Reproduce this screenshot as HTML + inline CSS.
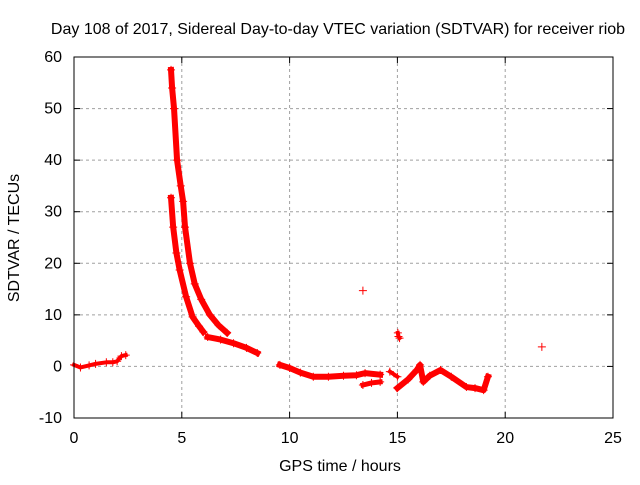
<!DOCTYPE html>
<html><head><meta charset="utf-8"><style>
html,body{margin:0;padding:0;background:#fff}
svg text{font-family:"Liberation Sans",Arial,sans-serif;font-size:16px;fill:#000}
</style></head><body>
<svg id="chart" width="640" height="480" viewBox="0 0 640 480" xmlns="http://www.w3.org/2000/svg">
<rect width="640" height="480" fill="#fff"/>
<g id="grid"></g>
<g id="ticks"></g>
<g id="series"></g>
<rect x="74" y="57" width="539" height="361" fill="none" stroke="#000" stroke-width="1"/>
<text x="338" y="34" text-anchor="middle">Day 108 of 2017, Sidereal Day-to-day VTEC variation (SDTVAR) for receiver riob</text>
<text x="340" y="471" text-anchor="middle">GPS time / hours</text>
<text x="0" y="0" text-anchor="middle" transform="translate(19,238) rotate(-90)">SDTVAR / TECUs</text>
</svg>
<script>
const xTicks=[0,5,10,15,20,25];
const yTicks=[-10,0,10,20,30,40,50,60];
// segments: hours and values
const segA_t=[0,0.3,0.7,1.0,1.5,1.8,2.0,2.2,2.4];
const segA_v=[0.3,-0.2,0.2,0.5,0.8,0.8,1.0,2.0,2.2];
const segB_t=[4.5,4.55,4.64,4.78,4.95,5.06,5.15,5.38,5.6,5.9,6.3,6.7,7.1];
const segB_v=[57.5,54,50,40,35,32,27,20,16,13,10,8,6.5];
const segL_t=[4.5,4.6,4.75,4.9,5.2,5.5,5.8,6.0];
const segL_v=[32.7,27,22,18.7,13.5,9.6,7.8,6.7];
const segC_t=[6.2,6.8,7.4,8.0,8.5];
const segC_v=[5.7,5.2,4.5,3.6,2.6];
const segD_t=[9.55,10.0,10.5,11.1,11.8,12.5,13.1,13.5,14.2];
const segD_v=[0.3,-0.3,-1.2,-2.0,-2.0,-1.8,-1.7,-1.3,-1.6];
const segE_t=[13.4,13.8,14.2];
const segE_v=[-3.6,-3.2,-3.0];
const segF_t=[14.65,15.0];
const segF_v=[-1.0,-2.0];
const segG_t=[15.0,15.5,15.9,16.05,16.2,16.5,17.0,17.5,18.2,18.6,19.0,19.2];
const segG_v=[-4.2,-2.5,-0.7,0.3,-3.0,-1.8,-0.7,-2.0,-4.0,-4.2,-4.6,-2.0];
const segH_t=[15.02,15.05,15.1];
const segH_v=[6.5,5.8,5.5];
const single_t=[13.4,21.7];
const single_v=[14.7,3.8];

const X=t=>74+t*(539/25);
const Y=v=>418-(v+10)*(361/70);
const NS='http://www.w3.org/2000/svg';
function mk(tag,attrs,parent){const e=document.createElementNS(NS,tag);for(const k in attrs)e.setAttribute(k,attrs[k]);parent.appendChild(e);return e;}
const grid=document.getElementById('grid'),ticks=document.getElementById('ticks'),ser=document.getElementById('series');
xTicks.forEach(t=>{
  const x=X(t);
  if(t>0&&t<25){const l=mk('line',{x1:x,x2:x,y1:57,y2:418,stroke:'#a0a0a0','stroke-dasharray':'3,3'},grid);
  
  }
  mk('line',{x1:x,x2:x,y1:418,y2:412,stroke:'#000'},ticks);
  mk('line',{x1:x,x2:x,y1:57,y2:63,stroke:'#000'},ticks);
  const tx=mk('text',{x:x,y:443,'text-anchor':'middle'},ticks);tx.textContent=t;
  
  
});
yTicks.forEach(v=>{
  const y=Y(v);
  if(v>-10&&v<60){const l=mk('line',{x1:74,x2:613,y1:y,y2:y,stroke:'#a0a0a0','stroke-dasharray':'3,3'},grid);
  
  }
  mk('line',{x1:74,x2:80,y1:y,y2:y,stroke:'#000'},ticks);
  mk('line',{x1:613,x2:607,y1:y,y2:y,stroke:'#000'},ticks);
  const tx=mk('text',{x:62,y:y+5,'text-anchor':'end'},ticks);tx.textContent=v;
  
  
});
function plus(t,v){
  const x=X(t),y=Y(v);
  const p=mk('path',{d:`M${x-4},${y}H${x+4}M${x},${y-4}V${y+4}`,stroke:'#f00','stroke-width':1},ser);
  
  
}
function seg(ts,vs,w,name){
  const pts=ts.map((t,i)=>X(t)+','+Y(vs[i])).join(' ');
  const pl=mk('polyline',{points:pts,fill:'none',stroke:'#f00','stroke-width':w,'stroke-linejoin':'round','stroke-linecap':'square'},ser);
  
  
  ts.forEach((t,i)=>plus(t,vs[i]));
}
seg(segA_t,segA_v,4,'segment-early');
seg(segB_t,segB_v,6,'segment-upper-branch');
seg(segL_t,segL_v,6,'segment-lower-branch');
seg(segC_t,segC_v,6,'segment-tail');
seg(segD_t,segD_v,6,'segment-midday');
seg(segE_t,segE_v,5,'segment-midday-low');
seg(segF_t,segF_v,4,'segment-15h');
seg(segG_t,segG_v,6,'segment-evening');
seg(segH_t,segH_v,4,'segment-15h-spike');
single_t.forEach((t,i)=>plus(t,single_v[i]));
</script>
</body></html>
